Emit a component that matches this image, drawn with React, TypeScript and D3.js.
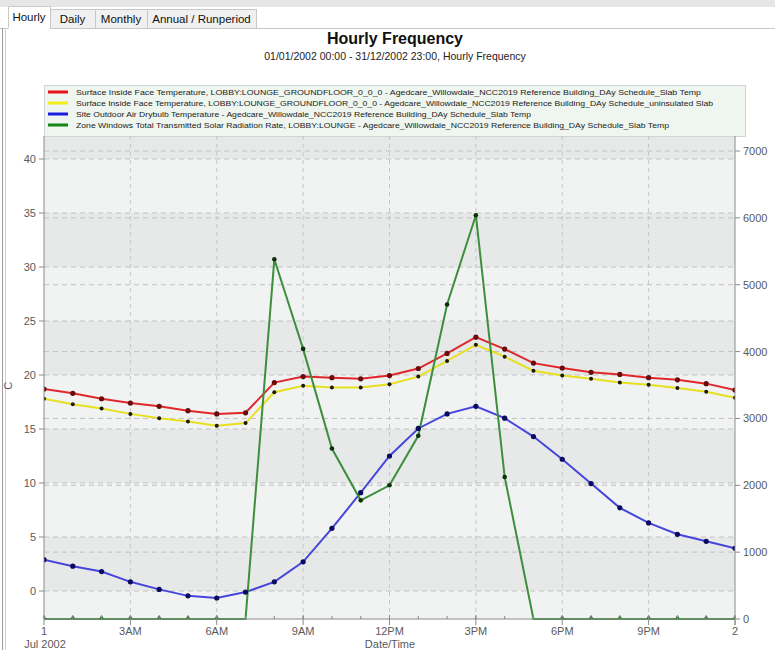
import React from "react";
import * as d3 from "d3";

const hours = [0,1,2,3,4,5,6,7,8,9,10,11,12,13,14,15,16,17,18,19,20,21,22,23,24];
const redSlab = [18.7,18.3,17.8,17.4,17.1,16.7,16.4,16.5,19.3,19.85,19.75,19.65,19.95,20.6,22.0,23.5,22.4,21.1,20.65,20.25,20.05,19.75,19.55,19.2,18.6];
const yellowUninsulated = [17.8,17.3,16.9,16.4,16.0,15.7,15.3,15.55,18.4,19.0,18.85,18.85,19.15,19.85,21.3,22.8,21.7,20.4,19.95,19.65,19.3,19.1,18.8,18.45,17.9];
const blueOutdoor = [2.9,2.3,1.8,0.85,0.15,-0.45,-0.65,-0.1,0.85,2.7,5.8,9.1,12.5,15.05,16.4,17.1,16.0,14.3,12.2,9.95,7.7,6.3,5.25,4.6,3.95];
const greenSolar = [0,0,0,0,0,0,0,0,5380,4040,2550,1775,2000,2740,4705,6040,2125,0,0,0,0,0,0,0,0];

const xTickHours = [0,3,6,9,12,15,18,21,24];
const xTickLabels = ["1","3AM","6AM","9AM","12PM","3PM","6PM","9PM","2"];
const leftTicks = [0,5,10,15,20,25,30,35,40];
const rightTicks = [0,1000,2000,3000,4000,5000,6000,7000];
const legendLabels = [
  "Surface Inside Face Temperature, LOBBY:LOUNGE_GROUNDFLOOR_0_0_0 - Agedcare_Willowdale_NCC2019 Reference Building_DAy Schedule_Slab Temp",
  "Surface Inside Face Temperature, LOBBY:LOUNGE_GROUNDFLOOR_0_0_0 - Agedcare_Willowdale_NCC2019 Reference Building_DAy Schedule_uninsulated Slab",
  "Site Outdoor Air Drybulb Temperature - Agedcare_Willowdale_NCC2019 Reference Building_DAy Schedule_Slab Temp",
  "Zone Windows Total Transmitted Solar Radiation Rate, LOBBY:LOUNGE - Agedcare_Willowdale_NCC2019 Reference Building_DAy Schedule_Slab Temp",
];
const legendColors = ["#e8141c", "#f2ee1a", "#1a1ae0", "#13861a"];
const legendWidths = [625, 637, 455, 593];
const tabs = ["Hourly", "Daily", "Monthly", "Annual / Runperiod"];

const W = 775, H = 650;
const PL = 44, PR = 735, PT = 136, PB = 619;

export default function App() {
  const x = d3.scaleLinear().domain([0, 24]).range([PL, PR]);
  const yL = d3.scaleLinear().domain([0, 40]).range([591, 159]);
  const yR = d3.scaleLinear().domain([0, 7000]).range([PB, 151]);

  const lineL = d3.line<number>().x((_, i) => x(hours[i])).y((v) => yL(v));
  const lineR = d3.line<number>().x((_, i) => x(hours[i])).y((v) => yR(v));

  const bands: { a: number; b: number; dark: boolean }[] = [];
  for (let v = -5; v < 45; v += 5) {
    const top = Math.max(PT, yL(v + 5));
    const bot = Math.min(PB, yL(v));
    if (bot > top) bands.push({ a: top, b: bot, dark: ((v / 5) % 2 + 2) % 2 === 0 });
  }

  const font = "Liberation Sans, Arial, sans-serif";
  const tickCol = "#5a5a5a";

  const tabX = [8, 50, 95, 147, 256];

  const series = [
    { vals: redSlab, color: "#e0282c", dot: "#6a0a0a", line: lineL },
    { vals: yellowUninsulated, color: "#e6e020", dot: "#1a1a00", line: lineL },
    { vals: blueOutdoor, color: "#4646dc", dot: "#0a0a60", line: lineL },
  ];

  return (
    <svg width={W} height={H} style={{ position: "absolute", left: 0, top: 0, fontFamily: font }}>
      <defs>
        <clipPath id="plotclip">
          <rect x={PL} y={PT} width={PR - PL} height={PB - PT + 1} />
        </clipPath>
      </defs>
      <rect x={0} y={0} width={W} height={H} fill="#ffffff" />
      {/* top strip & tabs */}
      <rect x={0} y={0} width={W} height={7} fill="#e6e6e6" />
      <line x1={0} x2={W} y1={28.5} y2={28.5} stroke="#c8c8c8" />
      {tabs.map((t, i) => (
        <g key={t}>
          <rect
            x={tabX[i] + 0.5}
            y={i === 0 ? 6.5 : 9.5}
            width={tabX[i + 1] - tabX[i]}
            height={i === 0 ? 22 : 19}
            fill={i === 0 ? "#ffffff" : "#f0f0f0"}
            stroke="#c8c8c8"
          />
          <text x={(tabX[i] + tabX[i + 1]) / 2} y={i === 0 ? 21 : 23} fontSize={11.5} textAnchor="middle" fill="#111">
            {t}
          </text>
        </g>
      ))}
      <rect x={8.5} y={27} width={41} height={3} fill="#fff" />
      <line x1={2.5} x2={2.5} y1={28} y2={H} stroke="#9a9a9a" />
      <line x1={5.5} x2={5.5} y1={28} y2={H} stroke="#d0d0d0" />

      {/* titles */}
      <text x={395} y={44} fontSize={16} fontWeight="bold" textAnchor="middle" fill="#111">Hourly Frequency</text>
      <text x={395} y={60} fontSize={10.5} textAnchor="middle" fill="#222">01/01/2002 00:00 - 31/12/2002 23:00, Hourly Frequency</text>

      {/* plot background bands */}
      {bands.map((b, i) => (
        <rect key={i} x={PL} y={b.a} width={PR - PL} height={b.b - b.a} fill={b.dark ? "#e7e9e9" : "#f1f2f2"} />
      ))}

      {/* legend */}
      <rect x={44.5} y={85.5} width={701} height={51} fill="#eef6ef" stroke="#cfd6cf" />
      {legendLabels.map((l, i) => (
        <g key={i}>
          <line x1={48} x2={68} y1={92 + i * 11} y2={92 + i * 11} stroke={legendColors[i]} strokeWidth={3} />
          <text x={76} y={95 + i * 11} fontSize={8} fill="#222" textLength={legendWidths[i]} lengthAdjust="spacingAndGlyphs">{l}</text>
        </g>
      ))}

      {/* grid */}
      {xTickHours.slice(1, -1).map((h) => (
        <line key={"vg" + h} x1={x(h)} x2={x(h)} y1={PT} y2={PB} stroke="#c6c6c6" strokeDasharray="4,4" />
      ))}
      {leftTicks.map((t) => (
        <line key={"lg" + t} x1={PL} x2={PR} y1={yL(t)} y2={yL(t)} stroke="#c2c2c2" strokeDasharray="5,4" />
      ))}
      {rightTicks.slice(1).map((t) => (
        <line key={"rg" + t} x1={PL} x2={PR} y1={yR(t)} y2={yR(t)} stroke="#c2c2c2" strokeDasharray="5,4" />
      ))}

      {/* series */}
      <g clipPath="url(#plotclip)">
        {series.map((s, k) => (
          <g key={k}>
            <path d={s.line(s.vals) || ""} fill="none" stroke={s.color} strokeWidth={2} />
          </g>
        ))}
        <path d={lineR(greenSolar) || ""} fill="none" stroke="#3c8f3c" strokeWidth={2} />
        {series.map((s, k) => (
          <g key={"d" + k}>
            {s.vals.map((v, i) => (
              <circle key={i} cx={x(hours[i])} cy={yL(v)} r={k === 1 ? 2 : 2.6} fill={s.dot} />
            ))}
          </g>
        ))}
        {greenSolar.map((v, i) => {
          if (v > 0) return <circle key={i} cx={x(hours[i])} cy={yR(v)} r={2.3} fill="#0c300c" />;
          const prev = i > 0 ? greenSolar[i - 1] : 0;
          const next = i < greenSolar.length - 1 ? greenSolar[i + 1] : 0;
          if (prev > 0 || next > 0) return null;
          const cx = x(hours[i]);
          return <path key={i} d={`M${cx - 2.5},${PB} L${cx},${PB - 4} L${cx + 2.5},${PB} Z`} fill="#1f6e1f" />;
        })}
      </g>

      {/* axes */}
      <line x1={PL} x2={PL} y1={PT} y2={PB} stroke="#8a8a8a" />
      <line x1={PR} x2={PR} y1={PT} y2={PB + 6} stroke="#8a8a8a" />
      <line x1={PL} x2={PR} y1={PB} y2={PB} stroke="#8a8a8a" />
      {leftTicks.map((t) => (
        <g key={"lt" + t}>
          <line x1={PL - 5} x2={PL} y1={yL(t)} y2={yL(t)} stroke="#8a8a8a" />
          <text x={PL - 8} y={yL(t) + 4} fontSize={11} textAnchor="end" fill={tickCol}>{t}</text>
        </g>
      ))}
      {rightTicks.map((t) => (
        <g key={"rt" + t}>
          <line x1={PR} x2={PR + 5} y1={yR(t)} y2={yR(t)} stroke="#8a8a8a" />
          <text x={PR + 8} y={yR(t) + 4} fontSize={11} textAnchor="start" fill={tickCol}>{t}</text>
        </g>
      ))}
      {hours.map((h) => (
        <line key={"mt" + h} x1={x(h)} x2={x(h)} y1={PB - 3} y2={PB} stroke="#8a8a8a" />
      ))}
      {xTickHours.map((h, i) => (
        <g key={"xt" + h}>
          <line x1={x(h)} x2={x(h)} y1={PB - 4} y2={PB + 6} stroke="#8a8a8a" />
          <text x={x(h)} y={635} fontSize={11} textAnchor="middle" fill={tickCol}>{xTickLabels[i]}</text>
        </g>
      ))}
      <text x={45} y={648} fontSize={11} textAnchor="middle" fill={tickCol}>Jul 2002</text>
      <text x={390} y={648} fontSize={11} textAnchor="middle" fill={tickCol}>Date/Time</text>
      <text x={0} y={0} fontSize={11} textAnchor="middle" fill={tickCol} transform={`translate(12,${yL(19)}) rotate(-90)`}>C</text>
    </svg>
  );
}
